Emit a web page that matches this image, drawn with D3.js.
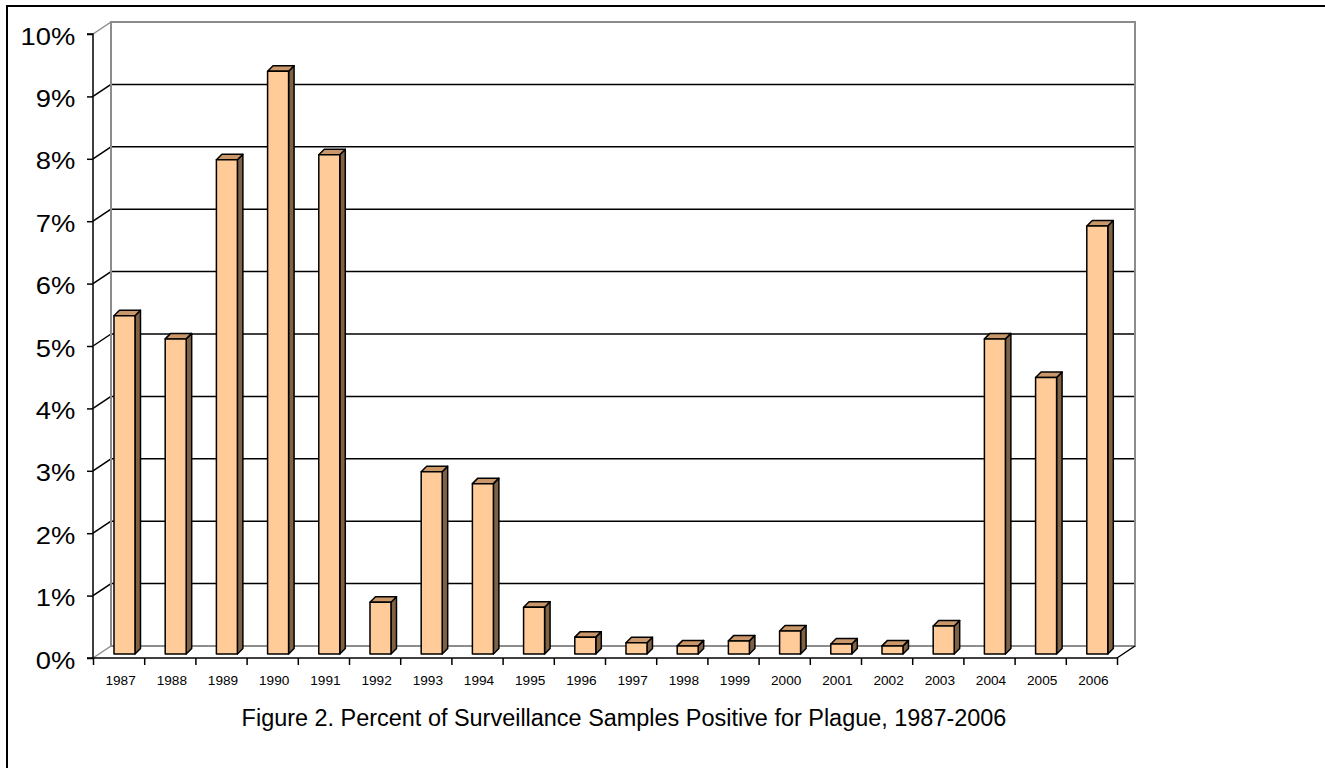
<!DOCTYPE html>
<html>
<head>
<meta charset="utf-8">
<script src="https://cdn.jsdelivr.net/npm/d3@7"></script>
<style>
  html, body { margin: 0; padding: 0; background: #ffffff; }
  svg { display: block; }
</style>
</head>
<body>
<svg id="chart" width="1325" height="768"></svg>
<script>
// ---- data ----
const years = ["1987","1988","1989","1990","1991","1992","1993","1994","1995","1996",
               "1997","1998","1999","2000","2001","2002","2003","2004","2005","2006"];
const values = [5.42, 5.05, 7.92, 9.34, 8.0, 0.83, 2.92, 2.73, 0.75, 0.27,
                0.18, 0.13, 0.21, 0.37, 0.16, 0.13, 0.45, 5.05, 4.43, 6.86];
const yTicks = [0,1,2,3,4,5,6,7,8,9,10];
const title = "Figure 2. Percent of Surveillance Samples Positive for Plague, 1987-2006";

// ---- layout ----
const svg = d3.select("#chart");
const font = "'Liberation Sans', Arial, sans-serif";
const plotLeft = 93, plotRight = 1117, plotTop = 34, plotBottom = 658;
const depthX = 18, depthY = -12;      // back-wall offset
const barDX = 5.5, barDY = -5.5;      // bar depth
const barBaseShift = -4;              // bar front face sits a little behind the front plane

const x = d3.scaleBand().domain(years).range([plotLeft, plotRight]).padding(0);
const xEdge = d3.scaleLinear().domain([0, years.length]).range([plotLeft, plotRight]);
const y = d3.scaleLinear().domain([0, 10]).range([plotBottom, plotTop]);

// outer frame
svg.append("rect")
  .attr("x", 7).attr("y", 6).attr("width", 1340).attr("height", 800)
  .attr("fill", "none").attr("stroke", "#000").attr("stroke-width", 2);

// back wall gridlines (1..9)
const grid = svg.append("g");
yTicks.filter(t => t > 0 && t < 10).forEach(t => {
  grid.append("line")
    .attr("x1", plotLeft + depthX).attr("x2", plotRight + depthX)
    .attr("y1", y(t) + depthY).attr("y2", y(t) + depthY)
    .attr("stroke", "#000").attr("stroke-width", 1.5);
  grid.append("line")
    .attr("x1", plotLeft).attr("x2", plotLeft + depthX)
    .attr("y1", y(t)).attr("y2", y(t) + depthY)
    .attr("stroke", "#000").attr("stroke-width", 1.5);
});

// back wall frame (gray)
const gray = "#8c8c8c";
grid.append("path")
  .attr("d", `M${plotLeft + depthX},${y(0) + depthY} L${plotLeft + depthX},${y(10) + depthY} L${plotRight + depthX},${y(10) + depthY} L${plotRight + depthX},${y(0) + depthY} Z`)
  .attr("fill", "none").attr("stroke", gray).attr("stroke-width", 2);
grid.append("line")
  .attr("x1", plotLeft).attr("y1", y(10)).attr("x2", plotLeft + depthX).attr("y2", y(10) + depthY)
  .attr("stroke", gray).attr("stroke-width", 1.5);
grid.append("line")
  .attr("x1", plotLeft).attr("y1", y(0)).attr("x2", plotLeft + depthX).attr("y2", y(0) + depthY)
  .attr("stroke", gray).attr("stroke-width", 1.5);
grid.append("line")
  .attr("x1", plotRight).attr("y1", y(0)).attr("x2", plotRight + depthX).attr("y2", y(0) + depthY)
  .attr("stroke", "#000").attr("stroke-width", 1.5);

// bars
const bw = x.bandwidth();
const fx0 = 0.41, fx1 = 0.82;
const bars = svg.append("g").attr("stroke", "#000").attr("stroke-width", 1.5).attr("stroke-linejoin", "round");
years.forEach((yr, i) => {
  const v = values[i];
  const x0 = x(yr) + bw * fx0, x1 = x(yr) + bw * fx1;
  const yb = y(0) + barBaseShift, yt = y(v) + barBaseShift;
  const g = bars.append("g");
  g.append("path")
    .attr("d", `M${x1},${yb} L${x1 + barDX},${yb + barDY} L${x1 + barDX},${yt + barDY} L${x1},${yt} Z`)
    .attr("fill", "#7f6246");
  g.append("path")
    .attr("d", `M${x0},${yt} L${x0 + barDX},${yt + barDY} L${x1 + barDX},${yt + barDY} L${x1},${yt} Z`)
    .attr("fill", "#c9976a");
  g.append("rect")
    .attr("x", x0).attr("y", yt).attr("width", x1 - x0).attr("height", yb - yt)
    .attr("fill", "#ffcc99");
});

// y axis
const yAxis = svg.append("g")
  .attr("transform", `translate(${plotLeft},0)`)
  .call(d3.axisLeft(y).tickValues(yTicks).tickSize(6).tickFormat(d => d + "%"));
yAxis.select(".domain").attr("stroke", "#000").attr("stroke-width", 1.5).attr("d", `M-6,${y(10)}H0V${y(0)}H-6`);
yAxis.selectAll(".tick line").attr("stroke", "#000").attr("stroke-width", 1.5);
yAxis.selectAll(".tick text")
  .attr("font-family", font).attr("font-size", 24).attr("fill", "#000")
  .attr("x", -15.5).attr("dy", "0.42em")
  .attr("transform", "scale(1.14,1)");

// x axis: ticks at category edges
const xTicks = svg.append("g")
  .attr("transform", `translate(0,${plotBottom})`)
  .call(d3.axisBottom(xEdge).tickValues(d3.range(0, years.length + 1)).tickSize(7).tickFormat(""));
xTicks.select(".domain").attr("stroke", "#000").attr("stroke-width", 1.5).attr("d", `M${plotLeft},0H${plotRight}`);
xTicks.selectAll(".tick line").attr("stroke", "#000").attr("stroke-width", 1.5);

// x axis labels
const xLab = svg.append("g")
  .attr("transform", `translate(2,${plotBottom})`)
  .call(d3.axisBottom(x).tickSize(0).tickPadding(0));
xLab.select(".domain").remove();
xLab.selectAll(".tick text")
  .attr("font-family", font).attr("font-size", 13).attr("fill", "#000")
  .attr("y", 27).attr("dy", "0")
  .attr("transform", "scale(1.05,1)");

// title: size the font so the text spans the same width as in the reference
const titleText = svg.append("text")
  .attr("x", 624).attr("y", 726)
  .attr("text-anchor", "middle")
  .attr("font-family", font).attr("font-size", 16).attr("fill", "#000")
  .text(title);
const natural = titleText.node().getComputedTextLength();
if (natural > 0) titleText.attr("font-size", 16 * 765 / natural);
</script>
</body>
</html>
